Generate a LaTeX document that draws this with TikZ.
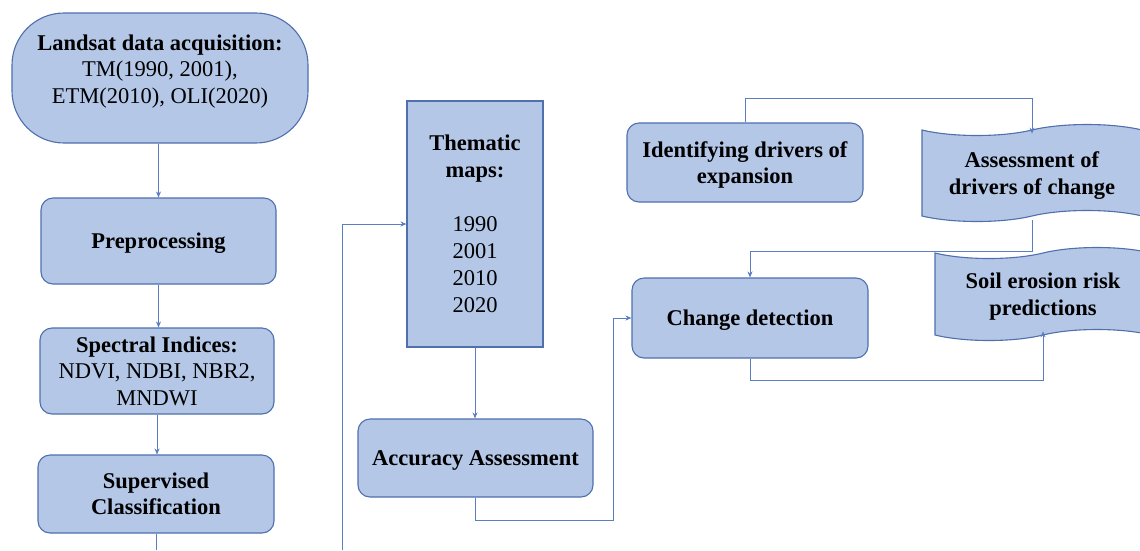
\documentclass[tikz,border=0pt]{standalone}
\usepackage{fontspec}
\setmainfont{Liberation Serif}
\usetikzlibrary{arrows.meta,shapes.symbols}
\definecolor{boxfill}{HTML}{B4C7E7}
\definecolor{boxdraw}{HTML}{4F6FAD}
\definecolor{linec}{HTML}{5A7EC0}
\tikzset{
  base/.style={draw=boxdraw, fill=boxfill, line width=1.1pt, align=center,
    font=\fontsize{22.5}{26.5}\selectfont, inner sep=2pt},
  rbox/.style={base, rounded corners=12pt},
  sbox/.style={base},
  lowtext/.style={text depth=0pt},
  tapebox/.style={base, lowtext, tape, tape bend top=in and out, tape bend bottom=in and out, tape bend height=11pt},
  conn/.style={draw=linec, line width=0.8pt, -{Stealth[length=6pt,width=5pt]}},
  plain/.style={draw=linec, line width=0.8pt}
}
\begin{document}
\begin{tikzpicture}[x=1pt,y=-1pt]
\useasboundingbox (0,0) rectangle (1140,550);
\node[base, rounded corners=52pt, minimum width=296pt, minimum height=130pt] (land) at (160,78)
  {\textbf{Landsat data acquisition:}\\TM(1990, 2001),\\ETM(2010), OLI(2020)\\[-8pt]};
\node[rbox, lowtext, minimum width=235pt, minimum height=86pt] (pre) at (158.5,241) {\textbf{Preprocessing}};
\node[rbox, minimum width=234pt, minimum height=86pt] (spec) at (157,371)
  {\textbf{Spectral Indices:}\\NDVI, NDBI, NBR2,\\MNDWI};
\node[rbox, minimum width=236pt, minimum height=78pt] (sup) at (156,494)
  {\textbf{Supervised}\\\textbf{Classification}};
\node[sbox, font=\fontsize{22.5}{27}\selectfont, minimum width=136pt, minimum height=246pt] (them) at (475,224)
  {\textbf{Thematic}\\\textbf{maps:}\\[27pt]1990\\2001\\2010\\2020};
\node[rbox, lowtext, minimum width=235pt, minimum height=78pt] (acc) at (475.5,458) {\textbf{Accuracy Assessment}};
\node[rbox, lowtext, minimum width=236pt, minimum height=79pt] (ident) at (745,162.5)
  {\textbf{Identifying drivers of}\\\textbf{expansion}};
\node[rbox, lowtext, minimum width=236pt, minimum height=80pt] (chg) at (750,318) {\textbf{Change detection}};
\node[tapebox, minimum width=220pt, minimum height=97pt] (assess) at (1032,173)
  {\textbf{Assessment of}\\\textbf{drivers of change}};
\node[tapebox, minimum width=216pt, minimum height=93pt] (soil) at (1043,294)
  {\textbf{Soil erosion risk}\\\textbf{predictions}};
\coordinate (bot1) at (156,550);
\coordinate (bot2) at (342,550);
\coordinate (accturn) at (613,520);
\coordinate (assturn) at (1032,98);
% connectors
\draw[conn] (land.south -| pre.north) -- (pre.north);
\draw[conn] (pre.south) -- (pre.south |- spec.north);
\draw[conn] (spec.south) -- (spec.south |- sup.north);
\draw[plain] (sup.south) -- (bot1);
\draw[conn] (bot2) |- (them.west);
\draw[conn] (them.south) -- (them.south |- acc.north);
\draw[conn] (acc.south) |- (accturn) |- (chg.west);
\draw[conn] (ident.north) |- (assturn) -- ([yshift=-4pt]assess.north);
\draw[conn] ([yshift=-4pt]assess.south) -- ++(0,31) -| (chg.north);
\draw[conn] (chg.south) -- ++(0,22) -| ([yshift=4pt]soil.south);
\end{tikzpicture}
\end{document}
